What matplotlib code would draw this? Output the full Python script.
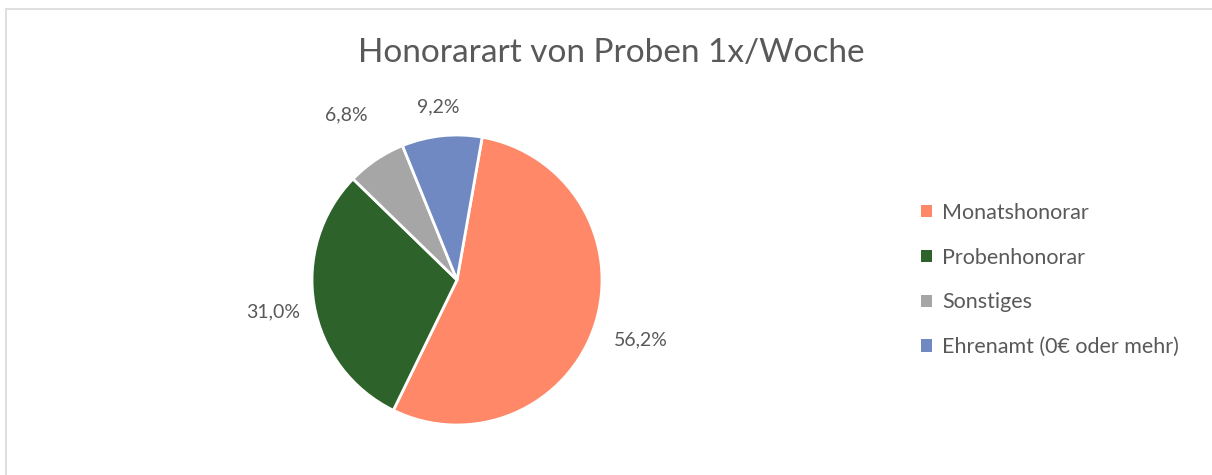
import numpy as np
import matplotlib.pyplot as plt
from matplotlib.patches import Rectangle

categories = ["Monatshonorar", "Probenhonorar", "Sonstiges", "Ehrenamt (0€ oder mehr)"]
values = [56.2, 31.0, 6.8, 9.2]
value_labels = ["56,2%", "31,0%", "6,8%", "9,2%"]
colors = ["#FF8868", "#2D632B", "#A6A6A6", "#7089C2"]

plt.rcParams["font.family"] = ["Lato", "DejaVu Sans"]
text_color = "#595959"

W, H = 1212, 475
fig = plt.figure(figsize=(W / 100, H / 100), dpi=100)

# pie centre and radius in pixels
cx, cy, r = 457, 280, 145
ax = fig.add_axes([(cx - r) / W, (H - cy - r) / H, 2 * r / W, 2 * r / H])

wedges, _ = ax.pie(values, colors=colors, startangle=80, counterclock=False,
                   wedgeprops=dict(edgecolor="white", linewidth=2.0))
ax.set_xlim(-1, 1)
ax.set_ylim(-1, 1)
ax.set_aspect("equal")
ax.axis("off")

# data labels along the middle of each wedge
label_dist = [1.33, 1.29, 1.37, 1.2]
for w, lab, d in zip(wedges, value_labels, label_dist):
    mid = np.deg2rad((w.theta1 + w.theta2) / 2)
    ax.text(d * np.cos(mid), d * np.sin(mid), lab, ha="center", va="center",
            fontsize=14, color=text_color)

fig.text(0.504, 1 - 53 / H, "Honorarart von Proben 1x/Woche", ha="center", va="center",
         fontsize=24, color=text_color)

leg = fig.legend(wedges, categories, loc="center left", bbox_to_anchor=(902 / W, 1 - 280 / H),
                 frameon=False, fontsize=15.5, handlelength=0.5, handleheight=0.5,
                 handletextpad=0.45, labelspacing=1.15, labelcolor=text_color)
for h in leg.legend_handles:
    h.set_edgecolor("none")

fig.patches.append(Rectangle((6 / W, -0.1), 1.1, 1 - 9 / H + 0.1, transform=fig.transFigure,
                             fill=False, edgecolor="#D9D9D9", linewidth=1.2))

plt.savefig("out.png", dpi=100)
